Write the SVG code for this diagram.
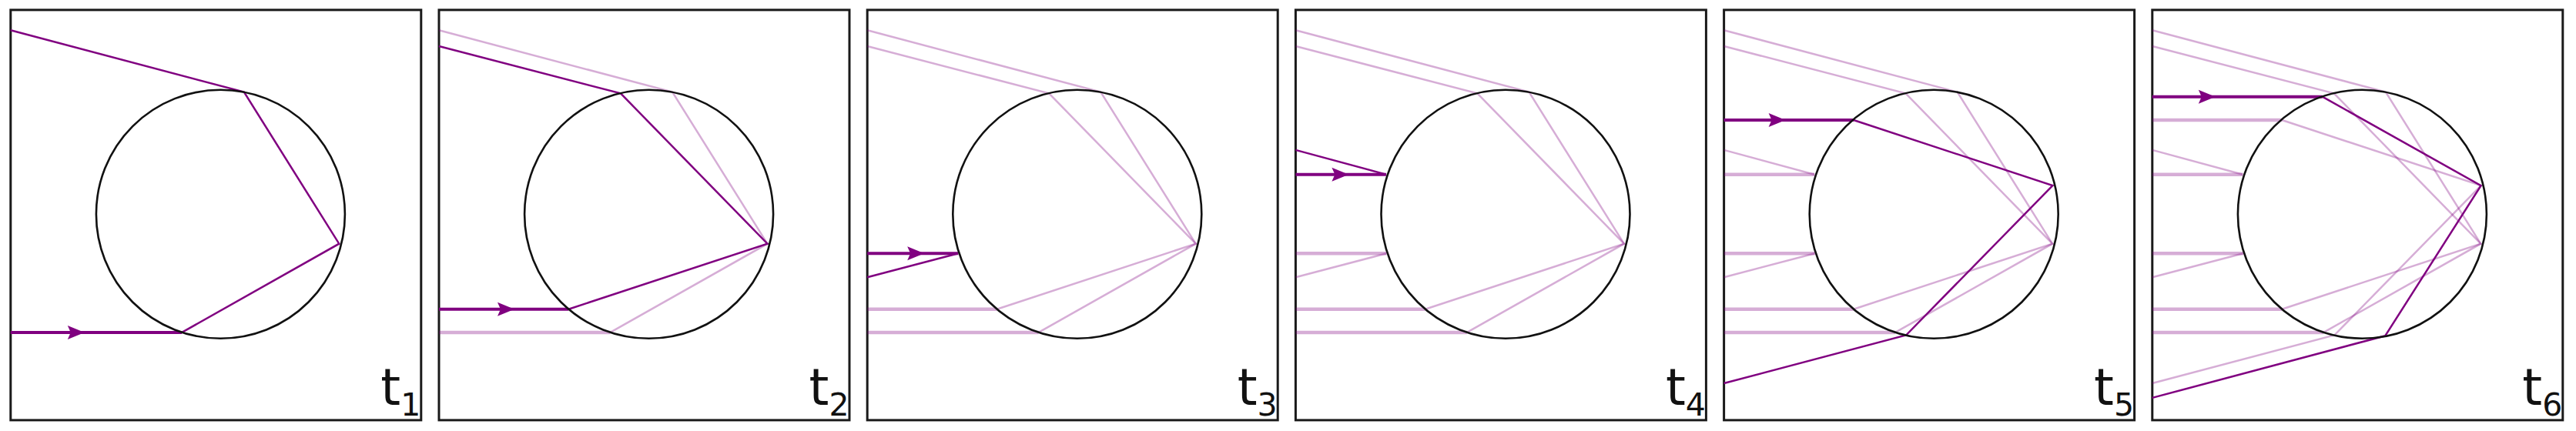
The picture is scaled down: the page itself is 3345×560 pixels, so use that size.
<svg xmlns="http://www.w3.org/2000/svg" xmlns:xlink="http://www.w3.org/1999/xlink" width="3345" height="560" viewBox="0 0 3345 560">
<style>
.frame{fill:#ffffff;stroke:#1a1a1a;stroke-width:3}
.circ{fill:none;stroke:#111111;stroke-width:2.6}
.dh{fill:none;stroke:#800080;stroke-width:4}
.ds{fill:none;stroke:#800080;stroke-width:2.5;stroke-linejoin:miter}
.fh{fill:none;stroke:#800080;stroke-opacity:0.32;stroke-width:4.5}
.fs{fill:none;stroke:#800080;stroke-opacity:0.32;stroke-width:2.5}
.arr{fill:#800080;stroke:none}
.lbl{font-family:"DejaVu Sans",Verdana,sans-serif;font-size:66px;fill:#111111}
.sub{font-size:41px}
</style>
<defs>
<path id="A-h" d="M0,419 H222.5"/>
<path id="A-s" d="M222.5,419 L426.5,303.8 L303.1,106.7 L0,26.4"/>
<path id="B-h" d="M0,388.8 H168.3"/>
<path id="B-s" d="M168.3,388.8 L426.5,303.8 L236,108.5 L0,47.1"/>
<path id="C-h" d="M0,316.4 H118"/>
<path id="C-s" d="M118,316.4 L0,347.3"/>
<path id="D-h" d="M0,213.8 H117.5"/>
<path id="D-s" d="M117.5,213.8 L0,182"/>
<path id="E-h" d="M0,143.1 H168.4"/>
<path id="E-s" d="M168.4,143.1 L426.8,228.2 L236.5,422.6 L0,485.1"/>
<path id="F-h" d="M0,112.8 H220.9"/>
<path id="F-s" d="M220.9,112.8 L426.8,228.2 L302.4,423.4 L0,504"/>
<path id="arrow" d="M0,0 L-22,-9 L-18,0 L-22,9 Z"/>
</defs>
<rect x="0" y="0" width="3345" height="560" fill="#ffffff"/>

<g id="panel-t1" transform="translate(13.8,12.9)">
<rect class="frame" x="0" y="0" width="533" height="533"/>
<g id="rays-t1">
<use href="#A-h" class="dh"/><use href="#A-s" class="ds"/>
<use href="#arrow" class="arr" x="96" y="419"/>
</g>
<circle class="circ" cx="272.6" cy="265.4" r="161.5"/>
<text class="lbl" x="480.5" y="513">t<tspan class="sub" dy="14">1</tspan></text>
</g>

<g id="panel-t2" transform="translate(570,12.9)">
<rect class="frame" x="0" y="0" width="533" height="533"/>
<g id="rays-t2">
<use href="#A-h" class="fh"/><use href="#A-s" class="fs"/>
<use href="#B-h" class="dh"/><use href="#B-s" class="ds"/>
<use href="#arrow" class="arr" x="98" y="388.8"/>
</g>
<circle class="circ" cx="272.6" cy="265.4" r="161.5"/>
<text class="lbl" x="480.5" y="513">t<tspan class="sub" dy="14">2</tspan></text>
</g>

<g id="panel-t3" transform="translate(1126.2,12.9)">
<rect class="frame" x="0" y="0" width="533" height="533"/>
<g id="rays-t3">
<use href="#A-h" class="fh"/><use href="#A-s" class="fs"/>
<use href="#B-h" class="fh"/><use href="#B-s" class="fs"/>
<use href="#C-h" class="dh"/><use href="#C-s" class="ds"/>
<use href="#arrow" class="arr" x="74" y="316.4"/>
</g>
<circle class="circ" cx="272.6" cy="265.4" r="161.5"/>
<text class="lbl" x="480.5" y="513">t<tspan class="sub" dy="14">3</tspan></text>
</g>

<g id="panel-t4" transform="translate(1682.4,12.9)">
<rect class="frame" x="0" y="0" width="533" height="533"/>
<g id="rays-t4">
<use href="#A-h" class="fh"/><use href="#A-s" class="fs"/>
<use href="#B-h" class="fh"/><use href="#B-s" class="fs"/>
<use href="#C-h" class="fh"/><use href="#C-s" class="fs"/>
<use href="#D-h" class="dh"/><use href="#D-s" class="ds"/>
<use href="#arrow" class="arr" x="69" y="213.8"/>
</g>
<circle class="circ" cx="272.6" cy="265.4" r="161.5"/>
<text class="lbl" x="480.5" y="513">t<tspan class="sub" dy="14">4</tspan></text>
</g>

<g id="panel-t5" transform="translate(2238.6,12.9)">
<rect class="frame" x="0" y="0" width="533" height="533"/>
<g id="rays-t5">
<use href="#A-h" class="fh"/><use href="#A-s" class="fs"/>
<use href="#B-h" class="fh"/><use href="#B-s" class="fs"/>
<use href="#C-h" class="fh"/><use href="#C-s" class="fs"/>
<use href="#D-h" class="fh"/><use href="#D-s" class="fs"/>
<use href="#E-h" class="dh"/><use href="#E-s" class="ds"/>
<use href="#arrow" class="arr" x="80" y="143.1"/>
</g>
<circle class="circ" cx="272.6" cy="265.4" r="161.5"/>
<text class="lbl" x="480.5" y="513">t<tspan class="sub" dy="14">5</tspan></text>
</g>

<g id="panel-t6" transform="translate(2794.8,12.9)">
<rect class="frame" x="0" y="0" width="533" height="533"/>
<g id="rays-t6">
<use href="#A-h" class="fh"/><use href="#A-s" class="fs"/>
<use href="#B-h" class="fh"/><use href="#B-s" class="fs"/>
<use href="#C-h" class="fh"/><use href="#C-s" class="fs"/>
<use href="#D-h" class="fh"/><use href="#D-s" class="fs"/>
<use href="#E-h" class="fh"/><use href="#E-s" class="fs"/>
<use href="#F-h" class="dh"/><use href="#F-s" class="ds"/>
<use href="#arrow" class="arr" x="82" y="112.8"/>
</g>
<circle class="circ" cx="272.6" cy="265.4" r="161.5"/>
<text class="lbl" x="480.5" y="513">t<tspan class="sub" dy="14">6</tspan></text>
</g>
</svg>
